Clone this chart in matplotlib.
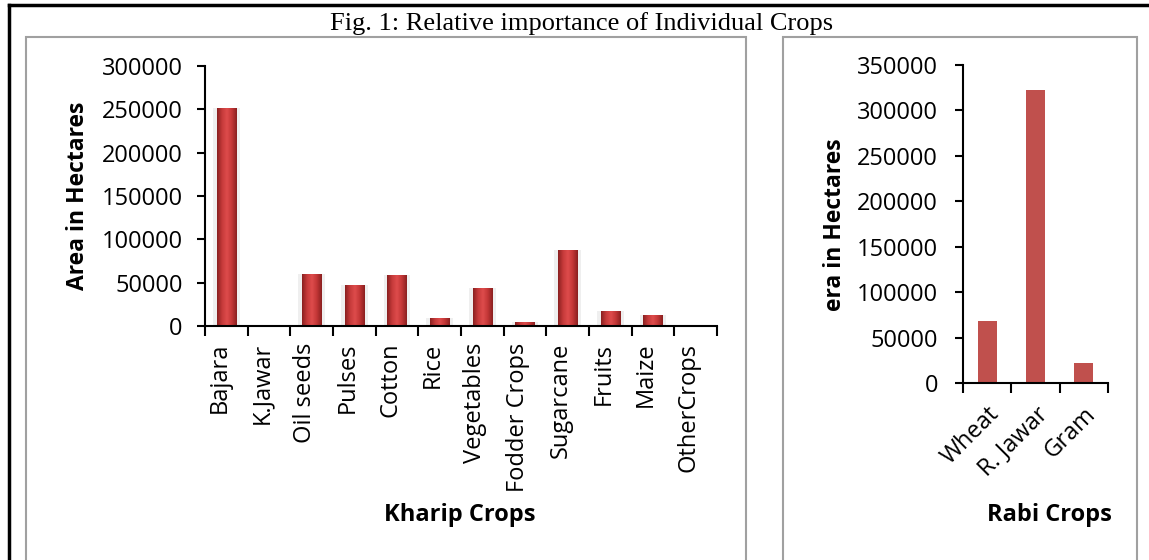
import numpy as np
import matplotlib
matplotlib.use('Agg')
import matplotlib.pyplot as plt
from matplotlib.colors import LinearSegmentedColormap
from matplotlib.patches import Rectangle
from matplotlib.lines import Line2D
from matplotlib.transforms import ScaledTranslation

# --- dados ---
kharif_crops = ['Bajara', 'K.Jawar', 'Oil seeds', 'Pulses', 'Cotton', 'Rice', 'Vegetables',
                'Fodder Crops', 'Sugarcane', 'Fruits', 'Maize', 'OtherCrops']
kharif_area = [251000, 1500, 60000, 47000, 59000, 9500, 43500, 4200, 88000, 16800, 13000, 1500]

rabi_crops = ['Wheat', 'R. Jawar', 'Gram']
rabi_area = [68000, 323000, 22000]

kharif_ticks = [0, 50000, 100000, 150000, 200000, 250000, 300000]
rabi_ticks = [0, 50000, 100000, 150000, 200000, 250000, 300000, 350000]

FONTE = 'Open Sans'
TAM = 17

fig = plt.figure(figsize=(11.49, 5.6), dpi=100)
W, H = 1149, 560

def fx(px):
    return px / W

def fy(py):
    return 1 - py / H

# --- molduras ---
fig.add_artist(Line2D([fx(9), fx(9)], [fy(5), -0.1], color='black', lw=2.5, transform=fig.transFigure))
fig.add_artist(Line2D([fx(9), 1.1], [fy(5), fy(5)], color='black', lw=2.5, transform=fig.transFigure))
for x0, x1 in [(26, 746), (783, 1137)]:
    fig.add_artist(Rectangle((fx(x0), -0.1), fx(x1) - fx(x0), fy(37) + 0.1, fill=False,
                             edgecolor='#A0A0A0', lw=1.5, transform=fig.transFigure))

fig.text(fx(582), fy(24), 'Fig. 1: Relative importance of Individual Crops',
         ha='center', va='center', family='Liberation Serif', fontsize=19)

# --- gráfico kharif ---
ax1 = fig.add_axes([fx(205), fy(326), fx(717) - fx(205), fy(66) - fy(326)])
x1 = np.arange(len(kharif_crops))
ax1.bar(x1, kharif_area, width=0.62, color='#EFEFEF', zorder=1)
barras = ax1.bar(x1, kharif_area, width=0.45, color='none', zorder=2)
cmap = LinearSegmentedColormap.from_list('cil', ['#8A2020', '#C63A3A', '#DE4C4C', '#C23636', '#8A2020'])
grad = np.linspace(0, 1, 64).reshape(1, -1)
for b in barras:
    bx, bw, bh = b.get_x(), b.get_width(), b.get_height()
    im = ax1.imshow(grad, cmap=cmap, extent=[bx, bx + bw, 0, bh], aspect='auto', zorder=2)
    im.set_clip_path(b)
ax1.set_xlim(-0.5, len(kharif_crops) - 0.5)
ax1.set_ylim(0, 300000)
ax1.set_yticks(kharif_ticks)
ax1.set_yticklabels([str(t) for t in kharif_ticks], family=FONTE, fontsize=TAM)
ax1.set_xticks(x1)
ax1.set_xticklabels(kharif_crops, rotation=90, family=FONTE, fontsize=TAM)
ax1.set_xticks(np.arange(-0.5, len(kharif_crops)), minor=True)
ax1.tick_params(axis='x', which='major', length=0, pad=12)
ax1.tick_params(axis='x', which='minor', length=7, width=1.5)
ax1.tick_params(axis='y', length=6, width=1.5, pad=10)
desloc = ScaledTranslation(-7 / 100, 0, fig.dpi_scale_trans)
for lab in ax1.get_xticklabels():
    lab.set_transform(lab.get_transform() + desloc)
for s in ['top', 'right']:
    ax1.spines[s].set_visible(False)
for s in ['left', 'bottom']:
    ax1.spines[s].set_linewidth(1.5)

fig.text(fx(78), fy(196), 'Area in Hectares', rotation=90, ha='center', va='center',
         family=FONTE, fontsize=TAM - 0.5, fontweight='bold')
fig.text(fx(460), fy(515), 'Kharip Crops', ha='center', va='center',
         family=FONTE, fontsize=TAM, fontweight='bold')

# --- gráfico rabi ---
ax2 = fig.add_axes([fx(963), fy(383), fx(1108) - fx(963), fy(65) - fy(383)])
x2 = np.arange(len(rabi_crops))
ax2.bar(x2, rabi_area, width=0.4, color='#C0504D', zorder=2)
ax2.set_xlim(-0.5, len(rabi_crops) - 0.5)
ax2.set_ylim(0, 350000)
ax2.set_yticks(rabi_ticks)
ax2.set_yticklabels([str(t) for t in rabi_ticks], family=FONTE, fontsize=TAM)
ax2.set_xticks(x2)
ax2.set_xticklabels(rabi_crops, rotation=45, ha='right', va='top', rotation_mode='anchor',
                    family=FONTE, fontsize=TAM)
ax2.set_xticks(np.arange(-0.5, len(rabi_crops)), minor=True)
ax2.tick_params(axis='x', which='major', length=0, pad=14)
ax2.tick_params(axis='x', which='minor', length=7, width=1.5)
ax2.tick_params(axis='y', length=6, width=1.5, pad=12)
for s in ['top', 'right']:
    ax2.spines[s].set_visible(False)
for s in ['left', 'bottom']:
    ax2.spines[s].set_linewidth(1.5)

fig.text(fx(835), fy(225), 'era in Hectares', rotation=90, ha='center', va='center',
         family=FONTE, fontsize=TAM - 0.5, fontweight='bold')
fig.text(fx(1049), fy(515), 'Rabi Crops', ha='center', va='center',
         family=FONTE, fontsize=TAM, fontweight='bold')

fig.savefig('out.png', dpi=100)
